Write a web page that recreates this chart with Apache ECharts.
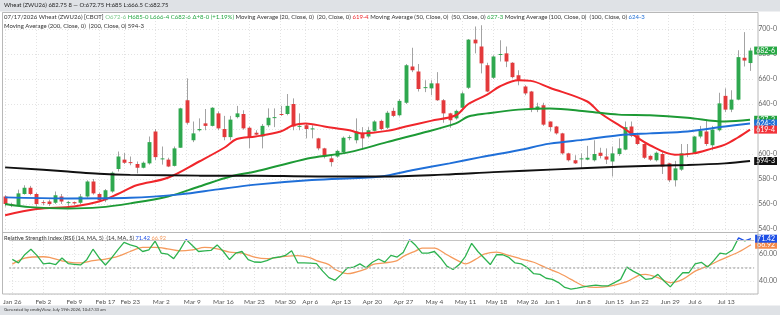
<!DOCTYPE html>
<html>
<head>
<meta charset="utf-8">
<script src="https://cdn.jsdelivr.net/npm/echarts@6/dist/echarts.min.js"></script>
<style>
html,body{margin:0;padding:0;background:#fff;}
#chart{width:780px;height:315px;}
</style>
</head>
<body>
<div id="chart"></div>
<script>
'use strict';
// trading days shown on the chart
var dates = [
  'Jan 26','Jan 27','Jan 28','Jan 29','Jan 30',
  'Feb 2','Feb 3','Feb 4','Feb 5','Feb 6',
  'Feb 9','Feb 10','Feb 11','Feb 12','Feb 13',
  'Feb 17','Feb 18','Feb 19','Feb 20',
  'Feb 23','Feb 24','Feb 25','Feb 26','Feb 27',
  'Mar 2','Mar 3','Mar 4','Mar 5','Mar 6',
  'Mar 9','Mar 10','Mar 11','Mar 12','Mar 13',
  'Mar 16','Mar 17','Mar 18','Mar 19','Mar 20',
  'Mar 23','Mar 24','Mar 25','Mar 26','Mar 27',
  'Mar 30','Mar 31','Apr 1','Apr 2',
  'Apr 6','Apr 7','Apr 8','Apr 9','Apr 10',
  'Apr 13','Apr 14','Apr 15','Apr 16','Apr 17',
  'Apr 20','Apr 21','Apr 22','Apr 23','Apr 24',
  'Apr 27','Apr 28','Apr 29','Apr 30','May 1',
  'May 4','May 5','May 6','May 7','May 8',
  'May 11','May 12','May 13','May 14','May 15',
  'May 18','May 19','May 20','May 21','May 22',
  'May 26','May 27','May 28','May 29',
  'Jun 1','Jun 2','Jun 3','Jun 4','Jun 5',
  'Jun 8','Jun 9','Jun 10','Jun 11','Jun 12',
  'Jun 15','Jun 16','Jun 17','Jun 18',
  'Jun 22','Jun 23','Jun 24','Jun 25','Jun 26',
  'Jun 29','Jun 30','Jul 1','Jul 2',
  'Jul 6','Jul 7','Jul 8','Jul 9','Jul 10',
  'Jul 13','Jul 14','Jul 15','Jul 16','Jul 17'
];
var weekLabels = ['Jan 26','Feb 2','Feb 9','Feb 17','Feb 23','Mar 2','Mar 9','Mar 16','Mar 23','Mar 30',
  'Apr 6','Apr 13','Apr 20','Apr 27','May 4','May 11','May 18','May 26','Jun 1','Jun 8','Jun 15',
  'Jun 22','Jun 29','Jul 6','Jul 13'];

// open, high, low, close
var candles = [
  [566,567,558,560],[560,561,557.5,559],[559,571.5,558.5,568.5],[568,575,567.5,573],[573,574.5,567,568],
  [568,569,558,560],[561.5,563,559,561],[562,563.5,558.5,560],[561,570,560,567],[566,568,560,562],
  [561,562.5,558.5,561.5],[561.5,562,559.5,560.5],[561,568,560,566],[566,579,565,578],[578,580,567.5,568.5],
  [568,569,561.5,563],[563,572,561.5,571],[570,586,569,585],[588,602,586,598],
  [595.5,601,592,593],[593.5,598,591,593],[592,594,584.5,589],[589,594,588.5,593],[592.5,614,591.5,609.5],
  [618,620,595,597.5],[596,606,591.5,596.5],[595.5,597,589.5,590],[590.5,606,590,604.5],[605,637,605,636.5],
  [643,660.5,623.5,625],[611,626,609.5,616.5],[619,628.5,618,620],[624.5,636,619,622.5],[622.5,637.5,622,637],
  [632.5,634,619,620.5],[620,630.5,611,613.5],[613.5,630.5,611,627.5],[629.5,638.5,628.5,632.5],[632,635,619.5,620.5],
  [621,622,604.5,613.5],[617,619,615,615.5],[614,624,604.5,622.5],[623,636.5,621.5,629],[629,636.5,621.5,629.5],
  [632,638.5,630.5,631.5],[632,648,631,638.5],[640,644.5,619,622],[622,632.5,619,622.5],
  [623,624.5,612.5,620],[620.5,623,612.5,620.5],[612.5,613,603,604.5],[604.5,605,596.5,598],[596.5,598.5,590,593.5],
  [598,603.5,597,602.5],[601.5,614,600.5,613],[613,615,611,613.5],[611,628.5,608.5,618],[617,621.5,603.5,612.5],
  [614,621.5,613,619],[618.5,627,618,626],[626.5,627.5,619,620],[621,634.5,620,633],[634.5,637,629.5,630.5],
  [631,644,630,642.5],[641,672,640,671],[670,685,665.5,667],[666,672,650,652],[653,659,649.5,653.5],
  [652.5,659,647,656.5],[656.5,665.5,642.5,643],[643,644,625,632.5],[632.5,633,621,627],[628.5,635.5,627.5,634.5],
  [637,650,636,648.5],[653,692,652,691.5],[691.5,702,680.5,688.5],[686,703,664.5,672.5],[671,673,649.5,650],
  [661,679,660,678],[679.5,691,674,680],[680.5,686,669.5,674],[673,673.5,660.5,661.5],[663,667,655,658.5],
  [654,655,647,648.5],[650,650.5,633.5,636],[635.5,641,633.5,638],[639,641,622.5,623.5],
  [626,626,618,621.5],[622,622.5,615.5,616.5],[616.5,617,599.5,600.5],[600.5,601,594,595],[595,599,592,592.5],
  [596,600.5,588.5,596.5],[595.5,606.5,595,597],[595,611,594,600],[601,605,596.5,598.5],[598,604.5,592,595.5],
  [594,606,582,600.5],[600,612.5,598.5,604.5],[603.5,626,603,621.5],[622,626,613.5,614.5],
  [615,616,607,608],[608,608.5,596,597],[598.5,599,594.5,595.5],[595,602,594,601],[600,602,584,590],
  [592.5,593,577.5,579],[579,594.5,574,588.5],[587.5,608,586.5,600.5],[600,608,597.5,600.5],
  [600.5,614.5,600,614],[614,622.5,612.5,618.5],[618,627.5,606.5,608],[607,622.5,603,619.5],[619,649,618,640.5],
  [646.5,652.5,633.5,635.5],[635.5,651,633.5,643.5],[643.5,683,643,677.5],[677,697.5,670,674.75],[672.75,685,666.5,682.75]
];

// moving averages as [bar index, value]
var ma20 = [[0,551],[5,556],[11,558],[15,562],[18,568],[21,575],[26,581],[31,594],[35,605],[37,612],[40,614],
  [44,618],[46,623],[48,624.5],[51,622],[55,619],[57,616.5],[61,618.5],[64,622],[68,626.5],[72,631],[74,640],
  [77,647.5],[79,654],[82,659],[84,658.5],[87,653],[93,642],[95,633],[99,620],[100,616.5],[103,607],[107,599.5],
  [110,600.5],[113,604.5],[115,607.5],[117,613],[119,619.5]];
var ma50 = [[0,560],[4,557.5],[10,556.5],[15,557.3],[20,560.5],[26,566],[31,574],[36,582],[40,586],[44,591],
  [49,597],[55,601.5],[61,609.5],[66,616],[72,624.5],[74,630],[77,632.5],[82,635.5],[87,636.5],[93,634],
  [98,631.5],[103,631],[109,629],[115,626],[119,627.375]];
var ma100 = [[0,565.3],[10,564.5],[20,565],[28,567.7],[34,571.7],[40,575.5],[49,579.2],[60,582],[65,587],
  [71,592.5],[76,597.5],[82,603],[87,608.3],[93,611.7],[98,615],[103,616.5],[109,618],[115,622],[119,624.375]];
var ma200 = [[0,589.3],[10,586],[15,584.2],[20,583.3],[31,582.7],[40,582.6],[50,582],[60,582],[70,583.5],
  [78,585.5],[88,587.7],[98,589.8],[109,591.2],[115,592.5],[119,594.375]];

// RSI (14) and its 5 period average
var rsi = [
  56,53.4,59.5,63.6,58.8, 52.7,53.2,52.2,57.1,52.9, 52.4,51.9,55.8,63.6,57.1, 51.9,57.1,63.1,68.7,
  66.8,65.6,61.9,63.1,69.7, 60.7,60,56.6,63.1,70.8, 66.3,61.9,62.4,62.7,66.8, 61.9,55.9,60.7,61.9,55.9,
  54.1,53.9,55.1,57.1,57.8, 59,62.4,53.4,53.4, 53.2,52.9,47.3,42.5,40.5, 44.9,49.8,50.3,52.7,49.8,
  53.9,56.3,54,59,57.8, 61.4,70.6,66.3,60.7,60.7, 61.9,57.1,51,48.5,52.2, 58.3,68,61.9,57.1,52.2,
  59.5,59.5,57.5,53.4,52.7, 49.8,45.4,44.9,42, 41.2,38.8,35.2,33.9,34.7, 35.6,36.4,36.9,36.4,36.4,
  38.8,41.2,50.3,47.3, 44.9,41.2,41.7,44.9,40, 35.6,41.2,46.1,46.1, 52.7,53.9,50.3,55.1,60.7,
  60,63,72,69.8,71.42
];
var rsiMa = [[0,52.5],[2,57],[5,58],[6,57.5],[8,55],[10,53.4],[11,53.4],[13,55.1],[15,56.3],[17,58.3],[19,61.9],
  [21,64.9],[23,64.9],[25,63.9],[27,62.4],[29,63.1],[31,64.9],[33,63.9],[35,61.4],[37,60.7],[39,57.8],[41,56.6],
  [44,58.3],[46,58.8],[48,57.1],[49,55.1],[51,52.2],[52,48.5],[54,45.4],[55,46.1],[57,49],[58,52.2],[60,53.4],
  [62,55.1],[63,58.3],[65,62.4],[66,64.4],[68,64.4],[70,59.5],[72,54.6],[73,52.7],[75,57.1],[76,60],[78,61.4],
  [80,59],[82,56.3],[84,53.9],[86,49.8],[88,46.1],[90,41.2],[92,36.4],[94,35.2],[96,35.9],[99,39.5],[101,44.4],
  [102,44.9],[104,42.5],[106,38.8],[108,41.2],[110,47.3],[112,51],[114,55.5],[117,61.5],[119,66.92]];

var UP = '#2fa84f', DOWN = '#e3393b', RED = '#f0262b', GREEN = '#1d9a35', BLUE = '#1f6fd8', BLACK = '#111111';
var RSI_GREEN = '#2db24f', RSI_BLUE = '#1d4fe6', RSI_ORANGE = '#f59a5c';
var FONT = 'Lato';
var CLEAR = 'rgba(0,0,0,0)';

function eighths(v) {
  var w = Math.floor(v + 1e-9);
  var f = Math.round((v - w) * 8);
  if (f === 8) { w++; f = 0; }
  return w + '-' + f;
}
function last(a) { var x = a[a.length - 1]; return Array.isArray(x) ? x[1] : x; }

// font size that makes a line of text about the given width
var measureCtx = document.createElement('canvas').getContext('2d');
function fitSize(text, width) {
  measureCtx.font = '10px ' + FONT;
  return Math.round(10 * width / measureCtx.measureText(text).width * 10) / 10;
}

var lastBar = candles[candles.length - 1];
var prevClose = candles[candles.length - 2][3];
var chg = lastBar[3] - prevClose;

function renderCandle(params, api) {
  var i = api.value(0), o = api.value(1), h = api.value(2), l = api.value(3), c = api.value(4);
  var top = api.coord([i, h]), bot = api.coord([i, l]);
  var po = api.coord([i, o]), pc = api.coord([i, c]);
  var w = api.size([1, 0])[0] * 0.62;
  var x = Math.round(top[0]) + 0.5;
  var y0 = Math.min(po[1], pc[1]), y1 = Math.max(po[1], pc[1]);
  if (y1 - y0 < 1) { y1 = y0 + 1; }
  return {
    type: 'group',
    children: [
      { type: 'line', shape: { x1: x, y1: top[1], x2: x, y2: bot[1] }, style: { stroke: '#a3a3a3', lineWidth: 1 } },
      { type: 'rect', shape: { x: x - w / 2, y: y0, width: w, height: y1 - y0 }, style: { fill: c >= o ? UP : DOWN } }
    ]
  };
}

function tag(value, text, bg) {
  return {
    yAxis: value,
    lineStyle: { color: CLEAR, width: 0 },
    label: {
      show: true, position: 'end', distance: 1, formatter: text,
      backgroundColor: bg, color: '#fff', fontSize: 7, fontFamily: FONT, padding: [1, 2, 0, 2]
    }
  };
}
function maLine(name, data, color, tags) {
  var s = {
    name: name, type: 'line', xAxisIndex: 0, yAxisIndex: 0, data: data,
    symbol: 'none', smooth: 0.35, silent: true, z: 3,
    lineStyle: { color: color, width: 2 }
  };
  if (tags) { s.markLine = { silent: true, symbol: 'none', animation: false, data: tags }; }
  return s;
}

// header texts
var parts = [
  ['k', '07/17/2026 Wheat (ZWU26) [CBOT]'],
  ['o', 'O' + eighths(lastBar[0])], ['g', 'H' + eighths(lastBar[1])], ['g', 'L' + eighths(lastBar[2])],
  ['g', 'C' + eighths(lastBar[3])],
  ['g', 'Δ+' + eighths(chg) + ' (+' + (chg / prevClose * 100).toFixed(2) + '%)'],
  ['k', 'Moving Average (20, Close, 0)  (20, Close, 0)'], ['r', eighths(last(ma20))],
  ['k', 'Moving Average (50, Close, 0)  (50, Close, 0)'], ['g', eighths(last(ma50))],
  ['k', 'Moving Average (100, Close, 0)  (100, Close, 0)'], ['b', eighths(last(ma100))]
];
var line2 = [['k', 'Moving Average (200, Close, 0)  (200, Close, 0)'], ['k', eighths(last(ma200))]];
var rsiParts = [['k', 'Relative Strength Index (RSI) (14, MA, 5)  (14, MA, 5)'], ['bl', last(rsi).toFixed(2)], ['or', last(rsiMa).toFixed(2)]];
function plain(p) { return p.map(function (x) { return x[1]; }).join(' '); }
function richText(p) { return p.map(function (x) { return '{' + x[0] + '|' + x[1] + '}'; }).join(' '); }

var headSize = fitSize(plain(parts), 643);
var rsiSize = fitSize(plain(rsiParts), 162);
var barSize = fitSize('Wheat (ZWU26) 682.75 8 — O:672.75 H:685 L:666.5 C:682.75', 164);
var footSize = fitSize('Generated by cmdtyView, July 19th 2026, 10:47:33 am', 101);

function makeRich(size) {
  var base = { fontSize: size, fontFamily: FONT, lineHeight: 8.5 };
  function st(c) { return Object.assign({ color: c }, base); }
  return { k: st('#333'), o: st('#7cc98a'), g: st('#27a844'), r: st('#f0262b'), b: st('#1f6fd8'), bl: st(RSI_BLUE), or: st(RSI_ORANGE) };
}

var gridLine = { color: '#e3e3e3', type: [1, 2], width: 1 };
function weekTick(idx, val) { return weekLabels.indexOf(val) >= 0; }

var chart = echarts.init(document.getElementById('chart'), null, { renderer: 'canvas' });
chart.setOption({
  animation: false,
  backgroundColor: '#fff',
  title: [
    {
      text: richText(parts) + '\n' + richText(line2), left: 4, top: 13, padding: 0,
      textStyle: { fontWeight: 'normal', fontSize: headSize, lineHeight: 8.5, fontFamily: FONT, color: '#333', rich: makeRich(headSize) }
    },
    {
      text: richText(rsiParts), left: 4, top: 234, padding: 0,
      textStyle: { fontWeight: 'normal', fontSize: rsiSize, lineHeight: 8.5, fontFamily: FONT, color: '#333', rich: makeRich(rsiSize) }
    }
  ],
  grid: [
    { left: 2, right: 22, top: 12, height: 217 },
    { left: 2, right: 22, top: 232, height: 62.4 }
  ],
  xAxis: [
    {
      type: 'category', gridIndex: 0, data: dates, boundaryGap: true,
      axisLine: { show: false }, axisTick: { show: false }, axisLabel: { show: false },
      splitLine: { show: true, interval: weekTick, alignWithLabel: true, lineStyle: gridLine }
    },
    {
      type: 'category', gridIndex: 1, data: dates, boundaryGap: true,
      axisLine: { show: false }, axisTick: { show: false },
      axisLabel: { interval: weekTick, color: '#555', fontSize: 6.5, fontFamily: FONT, margin: 4 },
      splitLine: { show: true, interval: weekTick, alignWithLabel: true, lineStyle: gridLine }
    }
  ],
  yAxis: [
    {
      type: 'value', gridIndex: 0, position: 'right', min: 540, max: 713.6, interval: 20,
      axisLine: { show: false }, axisTick: { show: false },
      axisLabel: {
        color: '#666', fontSize: 7, fontFamily: FONT, margin: 5,
        formatter: function (v) { return v % 20 === 0 ? eighths(v) : ''; }
      },
      splitLine: { show: true, lineStyle: gridLine }
    },
    {
      type: 'value', gridIndex: 1, position: 'right', min: 30, max: 76.4, interval: 10,
      axisLine: { show: false }, axisTick: { show: false },
      axisLabel: {
        color: '#666', fontSize: 7, fontFamily: FONT, margin: 5,
        formatter: function (v) { return (v === 40 || v === 60) ? v.toFixed(2) : ''; }
      },
      splitLine: { show: true, lineStyle: gridLine }
    }
  ],
  visualMap: {
    type: 'piecewise', show: false, seriesIndex: 6, dimension: 1,
    pieces: [{ min: 70, max: 100, color: RSI_BLUE }, { min: 0, max: 70, color: RSI_GREEN }]
  },
  series: [
    {
      name: 'Wheat', type: 'custom', xAxisIndex: 0, yAxisIndex: 0, z: 2,
      data: candles.map(function (d, i) { return [i, d[0], d[1], d[2], d[3]]; }),
      encode: { x: 0, y: [1, 2, 3, 4] },
      renderItem: renderCandle, clip: true, silent: true
    },
    maLine('MA20', ma20, RED),
    maLine('MA50', ma50, GREEN),
    maLine('MA100', ma100, BLUE),
    maLine('MA200', ma200, BLACK, [
      tag(last(ma200), eighths(last(ma200)), BLACK),
      tag(last(ma50), eighths(last(ma50)), '#22a33c'),
      tag(last(ma100), eighths(last(ma100)), BLUE),
      tag(last(ma20), eighths(last(ma20)), '#f2333a'),
      tag(lastBar[3], eighths(lastBar[3]), '#27a844')
    ]),
    {
      name: 'RSI MA', type: 'line', xAxisIndex: 1, yAxisIndex: 1, data: rsiMa,
      symbol: 'none', smooth: 0.3, silent: true, z: 3,
      lineStyle: { color: RSI_ORANGE, width: 1.3 },
      markLine: {
        silent: true, symbol: 'none', animation: false,
        data: [
          { yAxis: 50, lineStyle: { color: '#b5b5b5', type: [2, 2], width: 1.5 }, label: { show: false } },
          { yAxis: 70, lineStyle: { color: '#c4c4c4', type: 'solid', width: 1 }, label: { show: false } },
          tag(last(rsiMa), last(rsiMa).toFixed(2), '#f5894a'),
          tag(last(rsi), last(rsi).toFixed(2), RSI_BLUE)
        ]
      }
    },
    {
      name: 'RSI', type: 'line', xAxisIndex: 1, yAxisIndex: 1, data: rsi,
      symbol: 'none', silent: true, z: 4,
      lineStyle: { width: 1.3 }
    }
  ],
  graphic: [
    { type: 'rect', left: 0, top: 0, shape: { width: 780, height: 11.5 }, style: { fill: '#dfe2e6' }, silent: true },
    { type: 'text', left: 4, top: 2, style: { text: 'Wheat (ZWU26) 682.75 8 — O:672.75 H:685 L:666.5 C:682.75', fill: '#222', font: barSize + 'px Lato' }, silent: true },
    { type: 'rect', left: 0, top: 305.5, shape: { width: 780, height: 9.5 }, style: { fill: '#dfe2e6' }, silent: true },
    { type: 'text', left: 4, top: 307.5, style: { text: 'Generated by cmdtyView, July 19th 2026, 10:47:33 am', fill: '#333', font: footSize + 'px Lato' }, silent: true },
    { type: 'rect', shape: { x: 2.5, y: 12.5, width: 755.5, height: 281.5 }, style: { fill: null, stroke: '#b8b8b8', lineWidth: 1 }, silent: true, z: 100 },
    { type: 'line', shape: { x1: 2.5, y1: 232.5, x2: 758, y2: 232.5 }, style: { stroke: '#b8b8b8', lineWidth: 1 }, silent: true, z: 100 }
  ]
});
</script>
</body>
</html>
